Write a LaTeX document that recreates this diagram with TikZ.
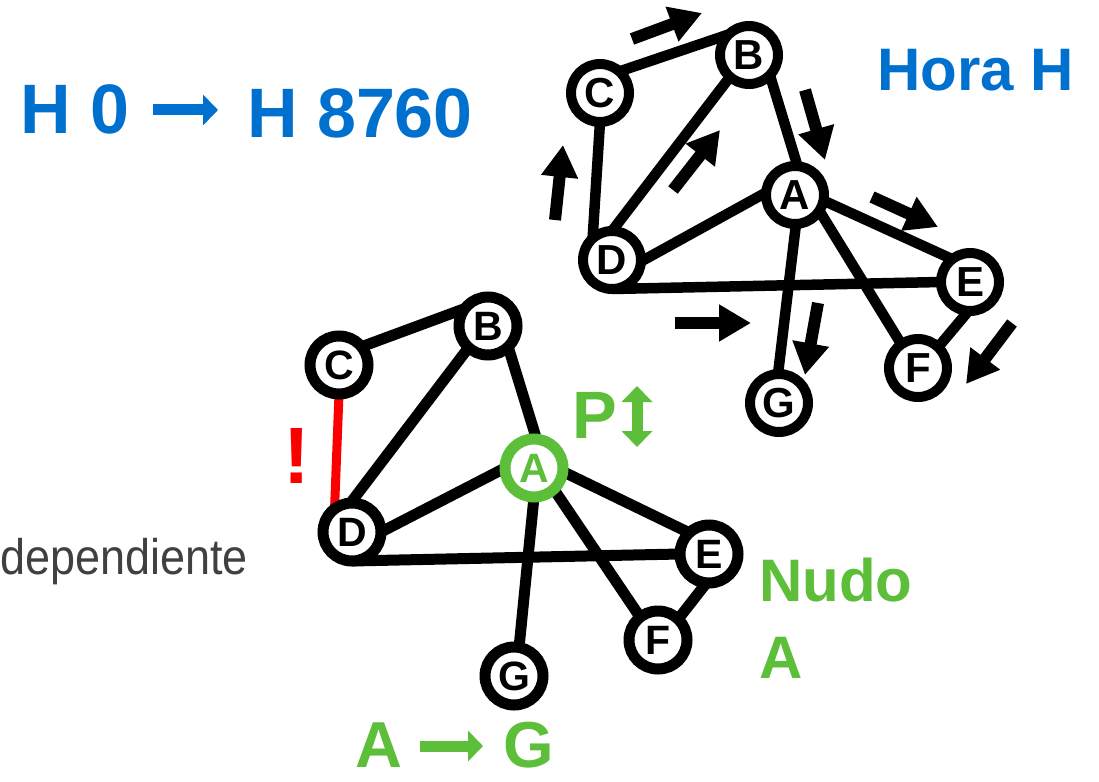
\documentclass[tikz,border=0pt]{standalone}
\usepackage{fontspec}
\setmainfont{Liberation Sans}
\usetikzlibrary{arrows.meta,backgrounds}
\definecolor{hblue}{RGB}{0,112,206}
\definecolor{hgreen}{RGB}{93,190,58}
\definecolor{hgray}{RGB}{64,64,64}
\definecolor{hred}{RGB}{250,0,0}
\tikzset{
  topnode/.style={circle,draw=black,fill=white,line width=10pt,minimum size=58pt,inner sep=0pt,outer sep=0pt,
    font=\bfseries\fontsize{42}{42}\selectfont},
  botnode/.style={circle,draw=black,fill=white,line width=11pt,minimum size=58pt,inner sep=0pt,outer sep=0pt,
    font=\bfseries\fontsize{41}{41}\selectfont},
  topedge/.style={line width=10.5pt,draw=black},
  botedge/.style={line width=11pt,draw=black},
  flowarrow/.style={line width=12pt,-{Triangle[length=32pt,width=35pt]}},
  symarrow/.style={line width=11pt,-{Triangle[length=15pt,width=30pt]}},
  symdarrow/.style={line width=11pt,{Triangle[length=16pt,width=30pt]}-{Triangle[length=16pt,width=30pt]}},
  txt/.style={anchor=base west,inner sep=0pt,font=\bfseries\fontsize{#1}{#1}\selectfont},
}
\begin{document}
\begin{tikzpicture}[x=1pt,y=-1pt]
\useasboundingbox (0,0) rectangle (1099,781);

% ---------- top graph ----------
\node[topnode] (tB) at (749,55) {B};
\node[topnode] (tC) at (600,93) {C};
\node[topnode] (tA) at (795,195) {A};
\node[topnode] (tD) at (612,260) {D};
\node[topnode] (tE) at (970,282) {E};
\node[topnode] (tF) at (918,368) {F};
\node[topnode] (tG) at (779,403) {G};
\begin{scope}[on background layer]
  \draw[topedge] (tC.48) -- (tB.135);
  \draw[topedge] (tC.-90) -- (tD.132);
  \draw[topedge] (tD.90) -- (tB.229);
  \draw[topedge] (tB.-44) -- (tA.85);
  \draw[topedge] (tD.-3) -- (tA.175);
  \draw[topedge] (tD.-90) -- (tE.180);
  \draw[topedge] (tA.-11) -- (tE.128);
  \draw[topedge] (tA.-88) -- (tG.92);
  \draw[topedge] (tA.-33) -- (tF.125);
  \draw[topedge] (tE.-93) -- (tF.46);
\end{scope}

% flow arrows
\draw[flowarrow] (632,39) -- (702,13);
\draw[flowarrow] (805,90) -- (825,160);
\draw[flowarrow] (673,190) -- (720,130);
\draw[flowarrow] (555,220) -- (563,145);
\draw[flowarrow] (872,197) -- (938,227);
\draw[flowarrow] (675,323) -- (751,323);
\draw[flowarrow] (818,303) -- (805,375);
\draw[flowarrow] (1012,323) -- (966,384);

% ---------- bottom graph ----------
\node[botnode] (bB) at (488,326) {B};
\node[botnode] (bC) at (339,365) {C};
\node[botnode,draw=hgreen,text=hgreen] (bA) at (534,468) {A};
\node[botnode] (bD) at (352,532) {D};
\node[botnode] (bE) at (709,554) {E};
\node[botnode] (bF) at (658,640) {F};
\node[botnode] (bG) at (514,676) {G};
\begin{scope}[on background layer]
  \draw[botedge] (bC.39) -- (bB.143);
  \draw[botedge,draw=hred,line width=9pt] (bC.-90) -- (bD.127);
  \draw[botedge] (bD.93) -- (bB.228);
  \draw[botedge] (bB.-46) -- (bA.85);
  \draw[botedge] (bD.0) -- (bA.180);
  \draw[botedge] (bD.-90) -- (bE.180);
  \draw[botedge] (bA.-7) -- (bE.133);
  \draw[botedge] (bA.-47) -- (bF.128);
  \draw[botedge] (bA.-90) -- (bG.80);
  \draw[botedge] (bE.-95) -- (bF.46);
\end{scope}

% ---------- texts ----------
\node[txt=70,text=hblue] (h0) at (20,133) {H 0};
\node[txt=70,text=hblue] (h8760) at (247,137) {H 8760};
\draw[symarrow,draw=hblue,fill=hblue] (153,110) -- (218,110);
\node[txt=60,text=hblue] (hora) at (877,91) {Hora H};
\node[txt=67,text=hgreen] (pp) at (572,438) {P};
\draw[symdarrow,draw=hgreen,fill=hgreen] (637,386) -- (637,447);
\node[txt=80,text=hred] (excl) at (283,483) {!};
\node[txt=60,text=hgreen] (nudo) at (759,601) {Nudo};
\node[txt=60,text=hgreen] (nudoa) at (759,678) {A};
\node[txt=65,text=hgreen] (ag1) at (355,767) {A};
\node[txt=65,text=hgreen] (ag2) at (503,767) {G};
\draw[symarrow,draw=hgreen,fill=hgreen] (420,746) -- (483,746);
\node[anchor=base west,inner sep=0pt,text=hgray,font=\fontsize{50}{50}\selectfont,xscale=0.9] (dep) at (0,574) {dependiente};
\end{tikzpicture}
\end{document}
